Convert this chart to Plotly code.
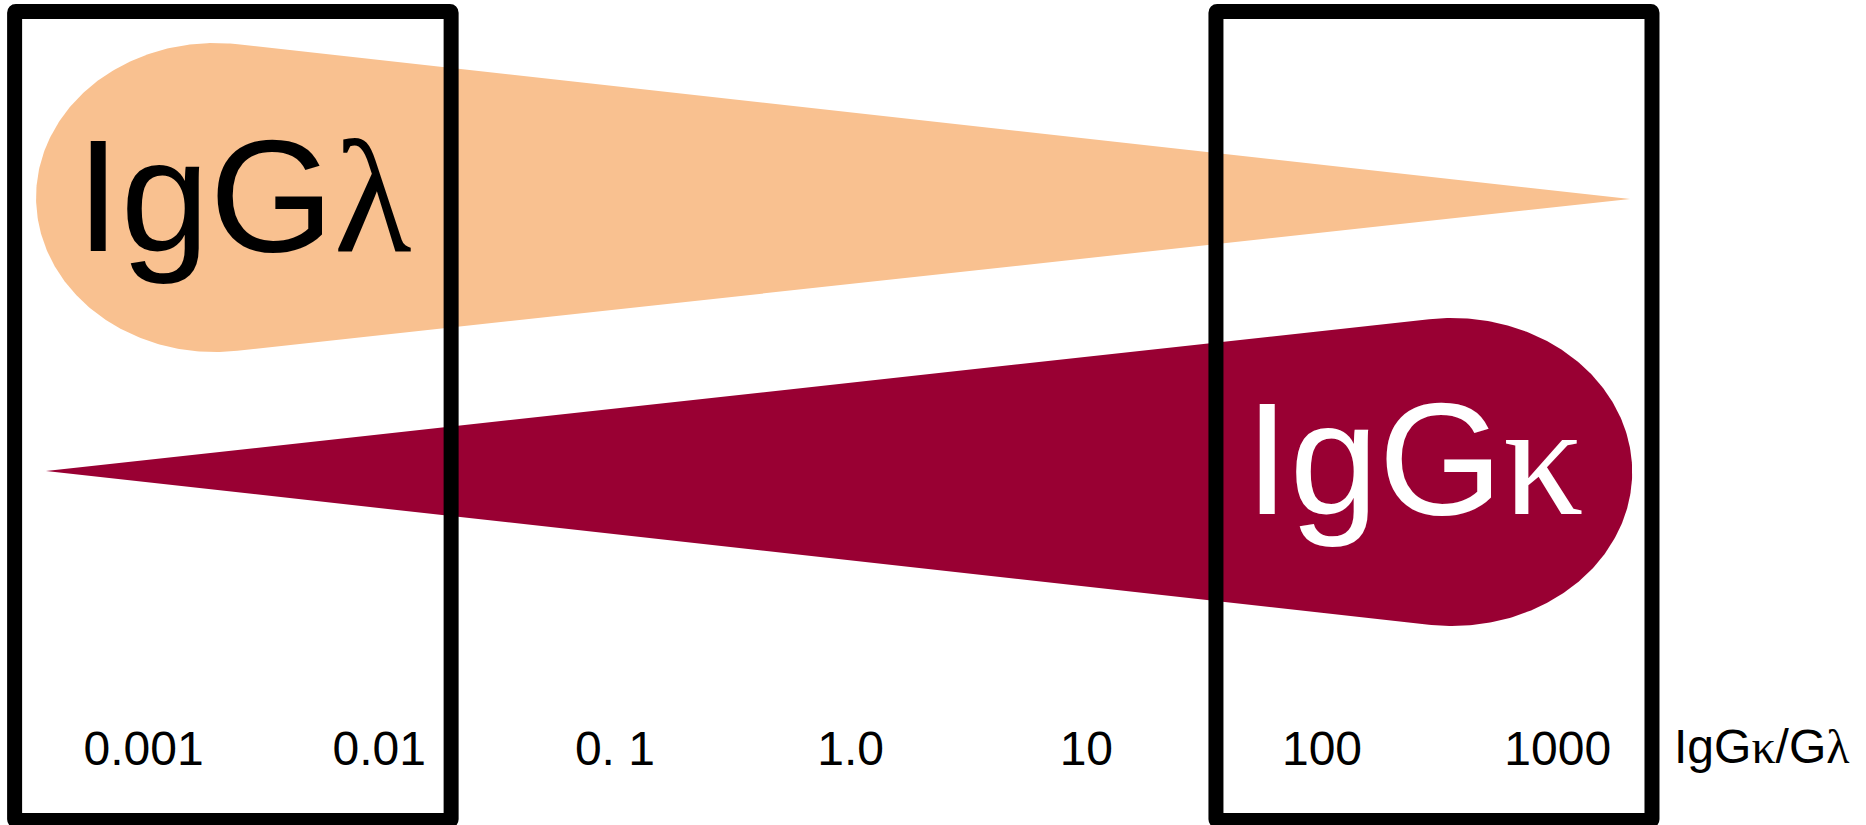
import numpy as np
import plotly.graph_objects as go

# ---- data: ratio scale (IgG kappa / IgG lambda), log10 units on the x axis ----
tick_ratios = [0.001, 0.01, 0.1, 1.0, 10, 100, 1000]
tick_labels = ["0.001", "0.01", "0. 1", "1.0", "10", "100", "1000"]

SERIF = "Liberation Serif, DejaVu Serif, serif"
def serif(ch):
    return f'<span style="font-family:{SERIF}">{ch}</span>'

axis_title = "IgG" + serif("κ") + "/G" + serif("λ")
lambda_label = "IgG" + serif("λ")
kappa_label = "IgG" + serif("κ")

# range boxes (log10 ratio)
box_low = [-3.547, -1.695]
box_high = [1.550, 3.400]

# tear-drop glyphs: ellipse centre / half-width / tip (log10 x), vertical geometry
lambda_drop = dict(cx=-2.697, a=0.759, tip=3.307, cy=197.5, b=154.5, tipy=199.0)
kappa_drop = dict(cx=2.552, a=0.764, tip=-3.414, cy=472.0, b=154.0, tipy=471.0)

ORANGE = "#F9C190"
CRIMSON = "#990033"
FONT = "Liberation Sans, Arial, sans-serif"

W, H = 1866, 825
XR = [-3.609, 4.308]


def drop_outline(d, n=240):
    ut = (d["tip"] - d["cx"]) / d["a"]
    vt = (d["tipy"] - d["cy"]) / d["b"]
    dist = np.hypot(ut, vt)
    phi = np.arctan2(vt, ut)
    delta = np.arccos(1.0 / dist)
    t = np.linspace(phi + delta, phi + 2 * np.pi - delta, n)
    xs = list(d["cx"] + d["a"] * np.cos(t)) + [d["tip"]]
    ys = list(d["cy"] + d["b"] * np.sin(t)) + [d["tipy"]]
    xs.append(xs[0])
    ys.append(ys[0])
    return xs, ys


fig = go.Figure()
for d, col in [(lambda_drop, ORANGE), (kappa_drop, CRIMSON)]:
    xs, ys = drop_outline(d)
    fig.add_trace(go.Scatter(x=xs, y=ys, mode="lines", fill="toself",
                             fillcolor=col, line=dict(width=0, color=col),
                             hoverinfo="skip", showlegend=False))

px = (XR[1] - XR[0]) / W  # one pixel in x units


def rounded_box(x0, x1, y0, y1, rx=1.2 * px, ry=1.2):
    return (f"M {x0+rx},{y0} L {x1-rx},{y0} Q {x1},{y0} {x1},{y0+ry} "
            f"L {x1},{y1-ry} Q {x1},{y1} {x1-rx},{y1} L {x0+rx},{y1} "
            f"Q {x0},{y1} {x0},{y1-ry} L {x0},{y0+ry} Q {x0},{y0} {x0+rx},{y0} Z")


shapes = []
for b in (box_low, box_high):
    shapes.append(dict(type="path", xref="x", yref="y",
                       path=rounded_box(b[0], b[1], 11.5, 820.5),
                       line=dict(color="black", width=15), layer="above"))

annotations = [
    dict(x=-3.295, y=104, xref="x", yref="y", xanchor="left", yanchor="top",
         text=lambda_label, showarrow=False,
         font=dict(family=FONT, size=160, color="black")),
    dict(x=1.665, y=367, xref="x", yref="y", xanchor="left", yanchor="top",
         text=kappa_label, showarrow=False,
         font=dict(family=FONT, size=160, color="white")),
    dict(x=3.485, y=718, xref="x", yref="y", xanchor="left", yanchor="top",
         text=axis_title, showarrow=False,
         font=dict(family=FONT, size=48, color="black")),
]

fig.update_layout(
    width=W, height=H,
    margin=dict(l=0, r=0, t=0, b=0),
    paper_bgcolor="white", plot_bgcolor="white",
    showlegend=False,
    shapes=shapes, annotations=annotations,
    xaxis=dict(range=XR, showgrid=False, zeroline=False, showline=False,
               ticks="", tickvals=list(np.log10(tick_ratios)),
               ticktext=tick_labels, anchor="free", position=1 - 716 / H,
               tickfont=dict(family=FONT, size=48, color="black"),
               fixedrange=True),
    yaxis=dict(range=[H, 0], visible=False, domain=[0, 1], fixedrange=True),
)

fig.write_html(
    "out.html",
    config={"displayModeBar": False},
    post_script="document.body.style.margin='0';document.body.style.padding='0';"
                "document.body.style.overflow='hidden';",
)
